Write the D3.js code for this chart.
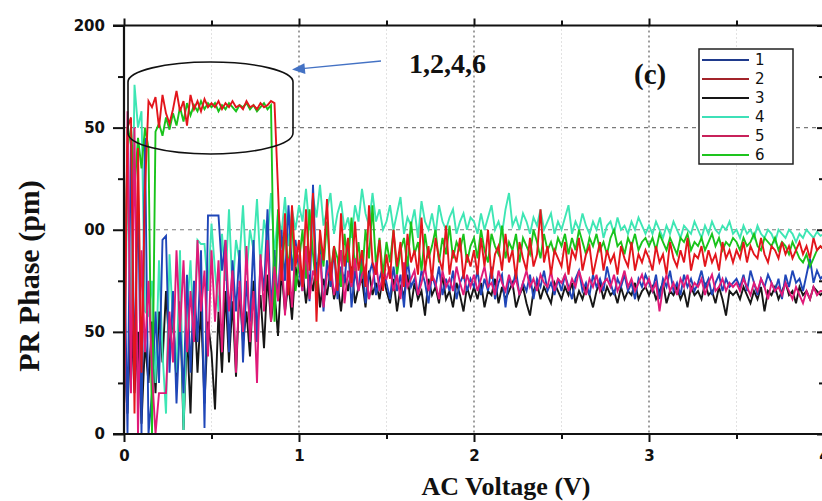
<!DOCTYPE html>
<html><head><meta charset="utf-8">
<script src="https://cdn.jsdelivr.net/npm/d3@7"></script>
<style>html,body{margin:0;padding:0;background:#fff;overflow:hidden}</style>
</head><body><svg id="chart" width="822" height="501"></svg>
<script>
// ---------- data (AC voltage sampled every 0.02 V) ----------
const voltage = d3.range(201).map(i => +(i * 0.02).toFixed(2));

const series1 = [
100,0,150,30,120, 0,145,0,20,60, 25,95,97,30,70, 15,55,20,78,30, 75,45,90,3,107,
107,107,107,80,95, 40,85,60,90,35, 75,55,95,45,85, 70,110,60,90,65, 100,75,112,80,95,
80,70,90,65,122, 75,95,60,85,72, 90,66,82,74,95, 62,80,70,88,64, 78,84,68,76,82,
74,66,82,70,78, 62,86,72,76,68, 80,74,64,78,72, 82,68,76,70,80, 66,74,78,70,76,
72,80,68,76,70, 82,66,74,78,62, 76,72,80,68,74, 70,78,66,76,72, 80,70,74,68,76,
70,78,72,66,76, 80,70,74,68,78, 72,76,70,82,74, 68,76,72,78,70, 74,66,76,72,78,
74,70,78,66,76, 72,80,70,74,68, 78,72,76,70,74, 80,72,76,68,74, 78,70,76,72,74,
76,72,78,70,80, 74,68,76,72,78, 74,70,76,66,78, 72,80,74,76,70, 78,86,74,80,76,
78];
const series2 = [
20,150,155,10,140, 30,120,163,160,165, 150,166,157,152,159, 168,158,163,151,166, 159,163,158,164,160,
162,160,163,159,162, 160,163,160,161,159, 163,160,161,159,162, 160,161,163,162,120, 75,108,68,112,82,
95,72,110,80,118, 55,100,85,115,75, 92,70,108,82,96, 74,104,80,90,72, 112,84,78,95,70,
88,76,100,82,94, 72,98,84,90,78, 106,80,92,75,96, 86,80,102,78,90, 84,96,76,88,82,
90,78,96,82,100, 76,88,92,80,98, 84,90,76,94,86, 80,96,82,88,110, 84,92,78,90,86,
82,94,78,90,86, 96,80,88,92,78, 86,94,80,90,84, 88,78,92,86,82, 94,80,88,84,90,
86,80,92,84,88, 78,94,86,82,90, 84,96,80,88,86, 92,82,90,84,88, 80,94,86,90,84,
90,86,94,84,92, 88,86,96,88,84, 92,90,86,94,88, 92,86,90,94,88, 92,86,96,90,92,
90];
const series3 = [
40,10,60,20,50, 5,45,25,55,20, 60,35,70,40,58, 25,65,2,50,10, 68,30,62,15,55,
40,12,60,30,70, 35,65,28,72,45, 60,38,75,50,68, 42,78,55,70,48, 80,60,74,56,82,
72,80,64,78,70, 84,62,76,68,80, 66,74,60,78,70, 82,64,72,76,62, 80,68,74,66,78,
70,64,76,60,72, 68,78,62,74,66, 70,58,76,68,72, 64,78,66,70,62, 74,68,60,72,66,
72,66,74,62,70, 68,76,64,72,66, 70,74,62,68,72, 64,58,70,74,66, 72,68,64,74,70,
66,72,68,74,64, 70,66,72,68,62, 70,74,66,72,68, 70,64,72,66,70, 68,74,66,70,72,
68,72,66,70,74, 64,70,68,72,66, 70,62,72,68,70, 66,74,68,70,64, 72,66,58,70,68,
70,66,72,68,64, 70,66,72,60,70, 68,72,66,70,74, 68,70,64,72,68, 70,66,72,70,68,
70];
const series4 = [
10,130,50,171,150, 158,60,58,75,25, 85,40,10,88,55, 30,90,2,60,85, 45,95,93,93,70,
103,80,60,98,75, 110,70,95,85,112, 78,100,90,115,82, 105,95,118,88,108, 98,116,92,110,100,
112,104,120,100,116, 106,122,102,110,118, 98,108,114,100,106, 96,112,104,120,108, 102,118,104,110,100,
104,112,100,108,116, 98,106,102,110,96, 114,104,100,108,98, 112,104,100,106,110, 98,104,108,100,106,
104,98,108,100,106, 112,100,104,98,110, 118,102,106,100,108, 104,98,106,102,110, 100,104,108,98,104,
100,106,112,98,104, 100,108,102,98,104, 100,106,96,102,104, 98,106,100,102,98, 104,100,106,102,98,
102,98,104,100,96, 102,98,104,100,96, 102,100,98,104,100, 96,102,98,104,100, 98,102,100,104,98,
100,96,102,98,100, 96,102,98,96,100, 98,94,100,98,96, 100,98,94,98,96, 100,98,96,99,97,
98];
const series5 = [
0,158,20,150,0, 90,40,75,30,0, 20,20,20,60,35, 90,50,85,40,70, 45,95,60,80,38,
90,55,85,40,95, 60,80,30,75,50, 92,45,70,25,88, 60,95,55,82,65, 90,58,86,62,92,
85,70,92,66,80, 75,88,62,78,84, 68,76,90,64,80, 72,86,70,78,82, 66,74,84,70,78,
76,82,70,78,66, 84,72,76,80,68, 74,82,70,78,74, 66,80,72,76,70, 82,74,68,78,72,
78,70,76,82,72, 74,68,80,74,70, 78,72,76,68,74, 80,72,76,70,78, 74,72,80,70,76,
74,78,70,76,72, 80,74,68,76,72, 78,70,74,76,72, 78,70,74,80,72, 76,70,74,78,72,
76,70,74,60,72, 78,70,74,68,76, 72,78,70,74,72, 76,68,74,78,70, 72,76,70,74,72,
74,70,76,72,68, 74,70,76,72,66, 74,70,72,68,74, 70,66,72,68,64, 70,66,72,68,70,
70];
const series6 = [
60,140,150,120,145, 130,150,140,0,148, 152,146,155,149,157, 151,160,153,162,156, 161,158,163,159,162,
160,162,158,161,159, 162,160,158,161,160, 162,159,161,158,160, 162,159,161,55,110, 75,100,80,106,70,
84,100,76,110,88, 70,96,82,104,78, 92,86,72,98,84, 106,80,94,76,100, 86,112,82,96,78,
94,84,100,78,90, 96,82,104,88,94, 80,98,86,92,100, 84,96,88,102,86, 94,90,98,84,92,
96,86,100,90,84, 98,92,88,102,86, 94,90,98,84,96, 92,88,100,94,86, 98,90,94,88,96,
92,98,88,96,90, 100,94,88,96,92, 98,90,94,88,96, 100,92,94,88,96, 92,98,90,94,96,
92,96,90,98,94, 90,96,92,88,96, 94,98,90,94,92, 96,90,94,98,92, 96,90,94,92,96,
94,90,96,92,94, 98,92,90,96,94, 92,96,90,94,92, 88,94,90,86,84, 88,82,86,90,92,
90];

const seriesNames = ["1", "2", "3", "4", "5", "6"];
const xTickValues = [0, 1, 2, 3, 4];
const xTickLabels = ["0", "1", "2", "3", "4"];
const yTickValues = [0, 50, 100, 150, 200];
const yTickLabels = ["0", "50", "00", "50", "200"];
const yMinorTicks = [25, 75, 125, 175];
const xMinorTicks = [0.5, 1.5, 2.5, 3.5];
const xAxisTitle = "AC Voltage (V)";
const yAxisTitle = "PR Phase (pm)";
const panelLabel = "(c)";
const calloutLabel = "1,2,4,6";

// ---------- styles ----------
const lineColors   = ["#1f46b8", "#e3151c", "#161616", "#3ee6b4", "#e01a78", "#19c31b"];
const legendColors = ["#1f3a8c", "#a3242a", "#161616", "#3ee0b8", "#c8215a", "#1ec41e"];
const drawOrder = [2, 3, 0, 5, 4, 1];

const svg = d3.select("#chart");
const x = d3.scaleLinear().domain([0, 4]).range([124, 824]);
const y = d3.scaleLinear().domain([0, 200]).range([434, 25.5]);

const allSeries = [series1, series2, series3, series4, series5, series6];

// grid
const grid = svg.append("g");
grid.selectAll(".hg").data([50, 100, 150]).enter().append("line")
  .attr("x1", x(0)).attr("x2", x(4)).attr("y1", d => y(d)).attr("y2", d => y(d))
  .attr("stroke", "#7a7a7a").attr("stroke-width", 1.1).attr("stroke-dasharray", "4,4");
grid.selectAll(".vg").data([1, 2, 3]).enter().append("line")
  .attr("x1", d => x(d)).attr("x2", d => x(d)).attr("y1", y(200)).attr("y2", y(0))
  .attr("stroke", "#6a6a6a").attr("stroke-width", 1.3).attr("stroke-dasharray", "2,3");
grid.selectAll(".vgm").data(xMinorTicks).enter().append("line")
  .attr("x1", d => x(d)).attr("x2", d => x(d)).attr("y1", y(200)).attr("y2", y(0))
  .attr("stroke", "#c4c4c4").attr("stroke-width", 1).attr("stroke-dasharray", "1,3");

// clip
svg.append("defs").append("clipPath").attr("id", "clip")
  .append("rect").attr("x", x(0)).attr("y", y(200)).attr("width", x(4) - x(0)).attr("height", y(0) - y(200));

const line = d3.line().x(d => x(d[0])).y(d => y(d[1]));
const plot = svg.append("g").attr("clip-path", "url(#clip)");
drawOrder.forEach(si => {
  const vals = allSeries[si];
  const pts = voltage.slice(0, vals.length).map((v, i) => [v, vals[i]]);
  plot.append("path").datum(pts).attr("d", line)
    .attr("fill", "none").attr("stroke", lineColors[si]).attr("stroke-width", 1.9)
    .attr("stroke-linejoin", "miter");
});

// axes
function styleAxis(g) {
  g.select(".domain").remove();
  g.selectAll(".tick line").attr("stroke", "#111").attr("stroke-width", 2);
  g.selectAll(".tick text").attr("fill", "#111")
    .style("font-family", "'DejaVu Sans', sans-serif").style("font-weight", "bold").style("font-size", "15px");
}
svg.append("g").attr("transform", `translate(${x(0)},0)`)
  .call(d3.axisLeft(y).tickValues(yTickValues).tickFormat((d, i) => yTickLabels[i]).tickSize(11).tickPadding(8))
  .call(styleAxis);
svg.append("g").attr("transform", `translate(${x(0)},0)`)
  .call(d3.axisLeft(y).tickValues(yMinorTicks).tickFormat("").tickSize(6)).call(styleAxis);
svg.append("g").attr("transform", `translate(0,${y(0)})`)
  .call(d3.axisBottom(x).tickValues(xTickValues).tickFormat((d, i) => xTickLabels[i]).tickSize(8).tickPadding(8))
  .call(styleAxis);
svg.append("g").attr("transform", `translate(0,${y(0)})`)
  .call(d3.axisBottom(x).tickValues(xMinorTicks).tickFormat("").tickSize(5)).call(styleAxis);
svg.append("g").attr("transform", `translate(0,${y(200)})`)
  .call(d3.axisTop(x).tickValues(xTickValues).tickFormat("").tickSize(7)).call(styleAxis);
svg.append("g").attr("transform", `translate(0,${y(200)})`)
  .call(d3.axisTop(x).tickValues(xMinorTicks).tickFormat("").tickSize(5)).call(styleAxis);
svg.append("g").attr("transform", `translate(${x(4)},0)`)
  .call(d3.axisLeft(y).tickValues(yTickValues).tickFormat("").tickSize(7)).call(styleAxis);
svg.append("g").attr("transform", `translate(${x(4)},0)`)
  .call(d3.axisLeft(y).tickValues(yMinorTicks).tickFormat("").tickSize(5)).call(styleAxis);

// frame lines
const frame = svg.append("g").attr("stroke", "#111").attr("stroke-width", 2.2);
frame.append("line").attr("x1", x(0)).attr("x2", x(0)).attr("y1", y(200)).attr("y2", y(0));
frame.append("line").attr("x1", x(0) - 11).attr("x2", x(4)).attr("y1", y(0)).attr("y2", y(0));
frame.append("line").attr("x1", x(0) - 11).attr("x2", x(4)).attr("y1", y(200)).attr("y2", y(200));
frame.append("line").attr("x1", x(4)).attr("x2", x(4)).attr("y1", y(200)).attr("y2", y(0));

// highlight shape around plateau
svg.append("path")
  .attr("d", "M128,82 A82.5,20 0 0 1 293,82 L293,133 A82.5,21 0 0 1 128,133 Z")
  .attr("fill", "none").attr("stroke", "#111").attr("stroke-width", 1.6);

// arrow
svg.append("line").attr("x1", 381).attr("y1", 61).attr("x2", 302).attr("y2", 68.6)
  .attr("stroke", "#4472c4").attr("stroke-width", 1.4);
svg.append("polygon").attr("points", "292,69.6 305.4,74 304.4,63.2").attr("fill", "#4472c4");

// annotation texts
svg.append("text").attr("x", 409).attr("y", 73).text(calloutLabel)
  .style("font-family", "'Liberation Serif','Times New Roman',serif").style("font-weight", "bold").style("font-size", "28px").attr("fill", "#111");
svg.append("text").attr("x", 634).attr("y", 84).text(panelLabel)
  .style("font-family", "'Liberation Serif','Times New Roman',serif").style("font-weight", "bold").style("font-size", "29px").attr("fill", "#111");

// legend
const lg = svg.append("g");
lg.append("rect").attr("x", 699).attr("y", 49).attr("width", 94).attr("height", 115)
  .attr("fill", "#fff").attr("stroke", "#222").attr("stroke-width", 1.5);
seriesNames.forEach((nm, i) => {
  const yy = 60 + i * 19;
  lg.append("line").attr("x1", 702).attr("x2", 749).attr("y1", yy).attr("y2", yy)
    .attr("stroke", legendColors[i]).attr("stroke-width", 2);
  lg.append("text").attr("x", 755).attr("y", yy).attr("dy", "0.36em").text(nm)
    .style("font-family", "'DejaVu Sans', sans-serif").style("font-size", "15px").attr("fill", "#111");
});

// axis titles
svg.append("text").attr("x", 506).attr("y", 495).attr("text-anchor", "middle").text(xAxisTitle)
  .style("font-family", "'Liberation Serif','Times New Roman',serif").style("font-weight", "bold").style("font-size", "26px").attr("fill", "#111");
svg.append("text").attr("transform", "translate(39,276) rotate(-90)").attr("text-anchor", "middle").text(yAxisTitle)
  .style("font-family", "'Liberation Serif','Times New Roman',serif").style("font-weight", "bold").style("font-size", "30px").attr("fill", "#111");
</script></body></html>
